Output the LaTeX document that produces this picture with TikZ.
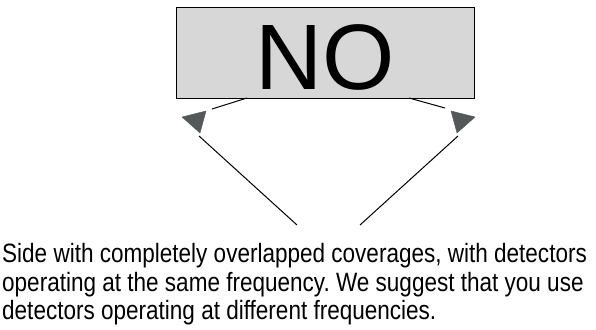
\documentclass[tikz,border=0pt]{standalone}
\usepackage{fontspec}
\setmainfont{Liberation Sans}
\newfontfamily\narrowfont[FakeStretch=0.85]{Liberation Sans}
\usetikzlibrary{positioning}
\definecolor{signgray}{HTML}{D6D7D6}
\definecolor{tipgray}{HTML}{555858}
\tikzset{
  ray/.style={line width=1pt, black},
  tip/.style={fill=tipgray, draw=tipgray, line width=0.4pt, line join=round}
}
\frenchspacing
\begin{document}
\begin{tikzpicture}[x=1pt, y=-1pt]
    \useasboundingbox (0,0) rectangle (596,329);
    \node[draw, fill=signgray, line width=1pt, minimum width=298pt, minimum height=90pt, inner sep=0pt,
          text height=72pt, text depth=0pt, font=\fontsize{93}{93}\selectfont] (sign) at (325,53) {NO};

    % left side
    \coordinate (lA) at (247,98);
    \coordinate (lB) at (212,109);
    \coordinate (lC) at (199,136);
    \coordinate (lD) at (297,225);
    \draw[ray] (lA) -- (lB);
    \draw[ray] (lC) -- (lD);
    \fill[tip] (182,117) -- (206,111) -- (200,133) -- cycle;

    % right side
    \coordinate (rA) at (409,98);
    \coordinate (rB) at (445,108);
    \coordinate (rC) at (458,136);
    \coordinate (rD) at (360,225);
    \draw[ray] (rA) -- (rB);
    \draw[ray] (rC) -- (rD);
    \fill[tip] (475,117) -- (451,111) -- (457,133) -- cycle;

    \node[anchor=north west, inner sep=0pt, align=left, font=\narrowfont\fontsize{26.5}{28.3}\selectfont] (note) at (2,243.5)
        {Side with completely overlapped coverages, with detectors\\
         operating at the same frequency. We suggest that you use\\
         detectors operating at different frequencies.};
\end{tikzpicture}
\end{document}
